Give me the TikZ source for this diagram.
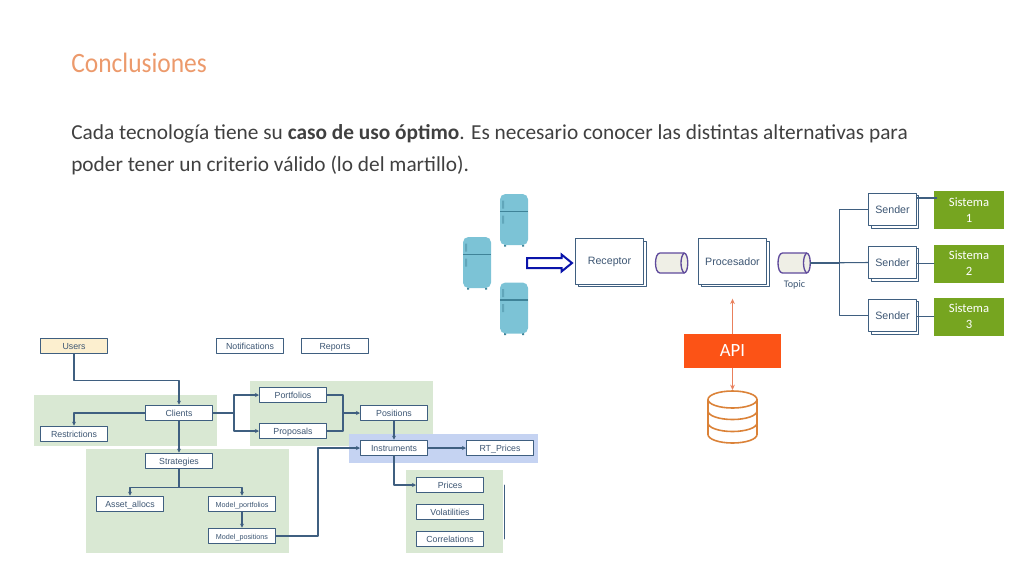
\documentclass[tikz,border=0pt]{standalone}
\usepackage{fontspec}
\setmainfont{Carlito}
\newfontfamily\diagfont{Liberation Sans}
\newfontfamily\titlefont[FakeStretch=0.91]{Carlito}
\usetikzlibrary{arrows.meta,shadows}
\definecolor{titleorange}{HTML}{EC9A6C}
\definecolor{bodygrey}{HTML}{404040}
\definecolor{panelgreen}{HTML}{D9E8D3}
\definecolor{panelblue}{HTML}{C5D3F2}
\definecolor{boxline}{HTML}{3F5F80}
\definecolor{boxtext}{HTML}{3D5673}
\definecolor{userfill}{HTML}{FCEFCF}
\definecolor{sysgreen}{HTML}{76A520}
\definecolor{apired}{HTML}{FC5316}
\definecolor{apiline}{HTML}{E9805C}
\definecolor{dborange}{HTML}{DB8238}
\definecolor{fridge}{HTML}{7CC3D6}
\definecolor{fridgedark}{HTML}{3F8398}
\definecolor{topicline}{HTML}{5F4A9C}
\definecolor{topicfill}{HTML}{EFEFE6}
\tikzset{
  entity/.style={draw=boxline, fill=white, line width=1pt, minimum width=50pt, minimum height=11.5pt, inner sep=0pt, text height=6pt, text depth=0.8pt, text=boxtext, font=\diagfont\fontsize{6.6}{8}\selectfont},
  small entity/.style={entity, font=\diagfont\fontsize{5.4}{7}\selectfont},
  link/.style={draw=boxline, line width=0.8pt, -{Stealth[length=3pt,width=3pt]}},
  plain link/.style={draw=boxline, line width=0.8pt},
  stacked/.style={draw=boxline, fill=white, line width=0.8pt, inner sep=0pt, text=boxtext, font=\diagfont\fontsize{8}{10}\selectfont,
    copy shadow={shadow xshift=2pt, shadow yshift=-2pt, fill=white, draw=boxline, line width=0.8pt}},
  sistema/.style={fill=sysgreen, text=white, minimum width=52.5pt, minimum height=28.5pt, inner sep=0pt, align=center, font=\fontsize{9.5}{12}\selectfont},
  apiline/.style={draw=apiline, line width=0.7pt, -{Stealth[length=4pt,width=3.5pt]}},
  topic/.pic={
    \draw[topicline, fill=topicfill, line width=1pt] (-12,-10) -- (12,-10) .. controls (17,-10) and (17,10) .. (12,10) -- (-12,10) .. controls (-18,10) and (-18,-10) .. (-12,-10) -- cycle;
    \draw[topicline, line width=1pt] (12,-10) .. controls (8,-6) and (8,6) .. (12,10);
  },
  fridgepic/.pic={
    \fill[fridgedark] (-10,25) rectangle (-8,27) (8,25) rectangle (10,27);
    \fill[fridge, rounded corners=4pt] (-14,-25.5) rectangle (14,25.5);
    \fill[fridgedark] (-14,-9) rectangle (14,-7.5);
    \fill[fridgedark!45!fridge] (-12,-19) rectangle (-10,-11) (-12,-4) rectangle (-10,4);
  }
}
\begin{document}
\begin{tikzpicture}[x=0.75pt, y=-0.75pt, line cap=round, line join=round]
    \useasboundingbox (0,0) rectangle (1024,576);

    \node[anchor=base west, inner sep=0pt, text=titleorange, font=\titlefont\fontsize{21}{25}\selectfont] (title) at (71,72) {Conclusiones};
    \node[anchor=base west, inner sep=0pt, text=bodygrey, font=\fontsize{16}{24}\selectfont] (line1) at (71,139) {Cada tecnología tiene su \textbf{caso de uso óptimo}. Es necesario conocer las distintas alternativas para};
    \node[anchor=base west, inner sep=0pt, text=bodygrey, font=\fontsize{16}{24}\selectfont] (line2) at (71,171) {poder tener un criterio válido (lo del martillo).};

    \fill[panelgreen] (34,395) rectangle (217,446);
    \fill[panelgreen] (86,449) rectangle (289,553);
    \fill[panelgreen] (250,381) rectangle (433,446);
    \fill[panelgreen] (406,470) rectangle (503,553);
    \fill[panelblue] (349,434) rectangle (538,463);

    \node[entity, fill=userfill] (users) at (74,346) {Users};
    \node[entity] (notifications) at (250,346) {Notifications};
    \node[entity] (reports) at (335,346) {Reports};
    \node[entity] (clients) at (179,413) {Clients};
    \node[entity] (restrictions) at (74,434) {Restrictions};
    \node[entity] (strategies) at (179,461) {Strategies};
    \node[entity] (assetallocs) at (130,504) {Asset\_allocs};
    \node[small entity] (modelportfolios) at (242,504) {Model\_portfolios};
    \node[small entity] (modelpositions) at (242,536) {Model\_positions};
    \node[entity] (portfolios) at (293,395) {Portfolios};
    \node[entity] (proposals) at (293,431) {Proposals};
    \node[entity] (positions) at (394,413) {Positions};
    \node[entity] (instruments) at (394,448) {Instruments};
    \node[entity] (rtprices) at (500,448) {RT\_Prices};
    \node[entity] (prices) at (450,485) {Prices};
    \node[entity] (volatilities) at (450,512) {Volatilities};
    \node[entity] (correlations) at (450,539) {Correlations};

    \draw[link] (users.south) -- ++(0,26) -| (clients.north);
    \draw[link] (clients.west) -| (restrictions.north);
    \draw[link] (clients.south) -- (strategies.north);
    \draw[link] (clients.east) -- ++(21,0) |- (portfolios.west);
    \draw[link] (clients.east) -- ++(21,0) |- (proposals.west);
    \draw[link] (strategies.south) -- ++(0,18) -| (assetallocs.north);
    \draw[link] (strategies.south) -- ++(0,18) -| (modelportfolios.north);
    \draw[link] (modelportfolios.south) -- (modelpositions.north);
    \draw[link] (modelpositions.east) -- ++(42,0) |- (instruments.west);
    \draw[plain link] (portfolios.east) -- ++(16,0) |- (proposals.east);
    \draw[link] (positions.west) ++(-17,0) -- (positions.west);
    \draw[link] (positions.south) -- (instruments.north);
    \draw[link] (instruments.east) -- (rtprices.west);
    \draw[link] (instruments.south) |- (prices.west);
    \coordinate (bracketa) at (504,485);
    \coordinate (bracketb) at (504,539);
    \draw[plain link, line width=0.6pt] (bracketa) -- (bracketb);

    \pic at (514,219.5) {fridgepic};
    \pic at (477,262.5) {fridgepic};
    \pic at (514,308) {fridgepic};

    \draw[draw={rgb,255:red,10;green,20;blue,170}, fill=white, line width=1.5pt, line join=miter]
      (527,258) -- (561.5,258) -- (561.5,254.5) -- (572,263) -- (561.5,271.5) -- (561.5,268) -- (527,268) -- cycle;

    \node[stacked, minimum width=51pt, minimum height=34pt] (receptor) at (609.5,261.5) {Receptor};
    \node[stacked, minimum width=51pt, minimum height=34pt] (procesador) at (732.5,261.5) {Procesador};
    \pic at (672,263) {topic};
    \pic at (794.5,263) {topic};
    \coordinate (topicout) at (810.5,263);
    \node[inner sep=0pt, text=boxtext, font=\fontsize{7.6}{9}\selectfont] (topiclabel) at (794.5,285) {Topic};

    \node[stacked, minimum width=35.5pt, minimum height=24.5pt] (sender1) at (892.5,209.5) {Sender};
    \node[stacked, minimum width=35.5pt, minimum height=24.5pt] (sender2) at (892.5,262.5) {Sender};
    \node[stacked, minimum width=35.5pt, minimum height=24.5pt] (sender3) at (892.5,315.5) {Sender};
    \node[sistema] (sistema1) at (969,210) {Sistema\\1};
    \node[sistema] (sistema2) at (969,263.5) {Sistema\\2};
    \node[sistema] (sistema3) at (969,316.5) {Sistema\\3};

    \draw[plain link] (topicout) -- (sender2.west);
    \draw[plain link] (topicout) -- ++(29,0) |- (sender1.west);
    \draw[plain link] (topicout) -- ++(29,0) |- (sender3.west);
    \draw[plain link] (sender1.east |- sistema1.west) ++(0,-12) -- ++(20,0);
    \draw[plain link] (sender2.east |- sistema2.west) -- (sistema2.west);
    \draw[plain link] (sender3.east |- sistema3.west) -- (sistema3.west);

    \node[fill=apired, text=white, minimum width=72.75pt, minimum height=25.5pt, inner sep=0pt, font=\fontsize{14}{16}\selectfont] (api) at (732.5,351) {API};
    \coordinate (dbtop) at (732.5,390);
    \draw[apiline, shorten >=10.5pt] (api.north) -- (procesador.south);
    \draw[apiline] (api.south) -- (dbtop);

    \draw[draw=dborange, line width=1.2pt]
      (708,399.5) -- (708,434.5) arc[start angle=180, end angle=0, x radius=24.5, y radius=8.5] -- (757,399.5)
      (732.5,391) arc[start angle=270, end angle=630, x radius=24.5, y radius=8.5]
      (708,411) arc[start angle=180, end angle=0, x radius=24.5, y radius=8.5]
      (708,423) arc[start angle=180, end angle=0, x radius=24.5, y radius=8.5];
\end{tikzpicture}
\end{document}
